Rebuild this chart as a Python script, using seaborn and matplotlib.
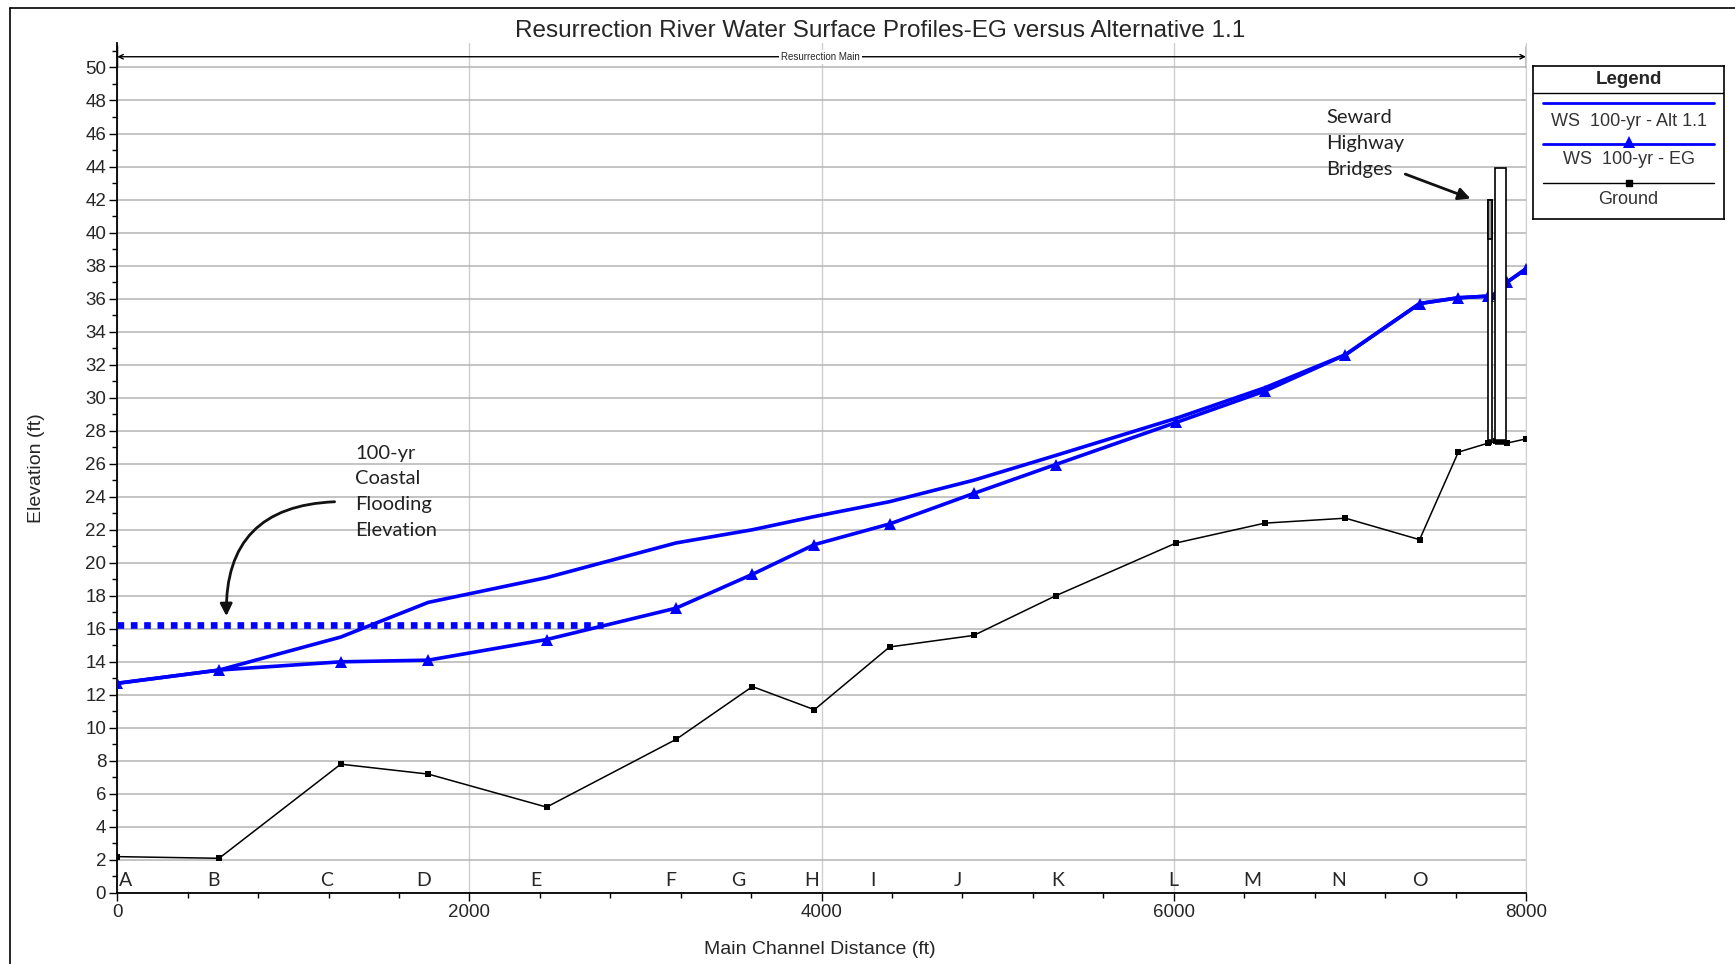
import matplotlib
matplotlib.use('Agg')
import matplotlib.pyplot as plt
from matplotlib.patches import Rectangle, FancyArrowPatch
from matplotlib.lines import Line2D
from matplotlib.ticker import MultipleLocator
import seaborn as sns
import pandas as pd

# ── data ──
dist = [0, 578, 1269, 1766, 2438, 3173, 3607, 3959, 4386, 4864, 5329,
        6014, 6517, 6975, 7396, 7616, 7786, 7830, 7893, 8000]
ground = [2.2, 2.1, 7.8, 7.2, 5.2, 9.3, 12.5, 11.1, 14.9, 15.6, 18.0,
          21.2, 22.4, 22.7, 21.4, 26.7, 27.25, 27.35, 27.25, 27.5]
ws_eg = [12.7, 13.5, 14.0, 14.1, 15.35, 17.25, 19.3, 21.1, 22.35, 24.2, 25.95,
         28.5, 30.4, 32.6, 35.7, 36.05, 36.15, 36.3, 37.0, 37.8]
ws_alt = [12.7, 13.5, 15.5, 17.6, 19.1, 21.2, 22.0, 22.8, 23.7, 25.0, 26.5,
          28.75, 30.6, 32.6, 35.7, 36.05, 36.15, 36.3, 37.0, 37.8]

coastal_x = [0, 2760]
coastal_y = [16.2, 16.2]

section_labels = list('ABCDEFGHIJKLMNO')
section_x = [45, 547, 1188, 1741, 2375, 3142, 3525, 3946, 4292, 4776,
             5341, 5995, 6447, 6938, 7396]

# bridges: (x_left, x_right, bottom, top)
bridges = [(7786, 7809, 27.3, 42.0), (7824, 7885, 27.3, 43.9)]

df = pd.DataFrame({'dist': dist, 'ground': ground, 'eg': ws_eg, 'alt': ws_alt})

# ── style ──
sns.set_style('white')
plt.rcParams['font.family'] = ['Liberation Sans', 'DejaVu Sans']
narrow = ['Liberation Sans Narrow', 'Liberation Sans', 'DejaVu Sans']
callout = ['Lato', 'DejaVu Sans']
BLUE = '#0000ff'

fig = plt.figure(figsize=(17.35, 9.64), dpi=100)
ax = fig.add_axes([0.0676, 0.0737, 0.8119, 0.8820])

# ── plot ──
ax.plot(coastal_x, coastal_y, color=BLUE, lw=4.8, ls=(0, (1, 1)),
        solid_capstyle='butt', dash_capstyle='butt', zorder=3)
sns.lineplot(data=df, x='dist', y='ground', ax=ax, color='black', lw=1.1,
             marker='s', markersize=4, markeredgewidth=0, sort=False,
             estimator=None, zorder=4)
sns.lineplot(data=df, x='dist', y='alt', ax=ax, color=BLUE, lw=2.6,
             sort=False, estimator=None, zorder=5)
sns.lineplot(data=df, x='dist', y='eg', ax=ax, color=BLUE, lw=2.6,
             marker='^', markersize=9, markeredgewidth=0, sort=False,
             estimator=None, zorder=6)

for i, (x0, x1, b, t) in enumerate(bridges):
    ax.add_patch(Rectangle((x0, b), x1 - x0, t - b, facecolor='white',
                           edgecolor='black', lw=1.2, zorder=7))
    if i == 0:
        ax.add_patch(Rectangle((x0, 39.6), x1 - x0, t - 39.6, facecolor='#a0a0a0',
                               edgecolor='black', lw=1.2, zorder=7))
    ax.plot([x0, x1], [b, b], color='black', lw=4, solid_capstyle='butt', zorder=8)

# ── axes ──
ax.set_xlim(0, 8000)
ax.set_ylim(0, 51.5)
ax.xaxis.set_major_locator(MultipleLocator(2000))
ax.xaxis.set_minor_locator(MultipleLocator(400))
ax.yaxis.set_major_locator(MultipleLocator(2))
ax.yaxis.set_minor_locator(MultipleLocator(1))
ax.set_yticks([v for v in range(0, 51, 2)])
ax.tick_params(axis='both', which='major', direction='out', length=6, width=1,
               color='black', labelsize=13.5, pad=2, left=True, bottom=True)
ax.tick_params(axis='both', which='minor', direction='out', length=3.5, width=1,
               color='black', left=True, bottom=True)
for lab in ax.get_xticklabels() + ax.get_yticklabels():
    lab.set_family(narrow)
ax.grid(axis='y', which='major', color='#b4b4b4', lw=1.1)
ax.grid(axis='x', which='major', color='#cfcfcf', lw=1.0)
ax.spines['top'].set_visible(False)
ax.spines['right'].set_color('#cfcfcf')
for s in ('left', 'bottom'):
    ax.spines[s].set_color('black')
    ax.spines[s].set_linewidth(1.3)
ax.set_xlabel('Main Channel Distance (ft)', fontsize=14, family=narrow)
ax.set_ylabel('Elevation (ft)', fontsize=14, family=narrow)
ax.xaxis.set_label_coords(0.4985, -0.056)
ax.yaxis.set_label_coords(-0.051, 0.5)

# reach banner
ax.annotate('', xy=(0, 50.65), xytext=(8000, 50.65),
            arrowprops=dict(arrowstyle='<->', lw=1, color='black',
                            shrinkA=0, shrinkB=0, mutation_scale=8), zorder=9)
for xe in (0, 8000):
    ax.plot([xe, xe], [50.0, 51.3], color='black', lw=1, zorder=9)
ax.text(3995, 50.65, 'Resurrection Main', fontsize=7, family=narrow, ha='center',
        va='center', bbox=dict(facecolor='white', edgecolor='none', pad=1.5), zorder=10)

# section letters
for lab, xs in zip(section_labels, section_x):
    ax.text(xs, 0.25, lab, fontsize=14, family=callout, ha='center', va='bottom', zorder=9)

# callouts
ax.text(1350, 24.3, '100-yr\nCoastal\nFlooding\nElevation', fontsize=14.5, family=callout,
        ha='left', va='center', linespacing=1.62, color='#222222')
ax.add_patch(FancyArrowPatch((1250, 23.7), (620, 16.6), connectionstyle='arc3,rad=0.5',
                             arrowstyle='-|>', mutation_scale=18, lw=2, color='#111111',
                             zorder=9))
ax.text(6865, 45.4, 'Seward\nHighway\nBridges', fontsize=14.5, family=callout,
        ha='left', va='center', linespacing=1.62, color='#222222')
ax.add_patch(FancyArrowPatch((7300, 43.6), (7700, 42.0), arrowstyle='-|>',
                             mutation_scale=18, lw=2, color='#111111', zorder=9))

fig.text(0.507, 0.968, 'Resurrection River Water Surface Profiles-EG versus Alternative 1.1',
         fontsize=17.5, ha='center', va='center')

# ── legend box ──
lg = fig.add_axes([1533 / 1735, 1 - 219 / 964, 191 / 1735, 153 / 964])
lg.set_xlim(0, 1)
lg.set_ylim(153, 0)
lg.set_xticks([])
lg.set_yticks([])
for s in lg.spines.values():
    s.set_color('black')
    s.set_linewidth(1.2)
lg.text(0.5, 13, 'Legend', fontsize=13.5, weight='bold', ha='center', va='center')
lg.plot([0, 1], [27, 27], color='black', lw=1)
lg.plot([0.05, 0.95], [37, 37], color=BLUE, lw=2)
lg.text(0.5, 56, 'WS  100-yr - Alt 1.1', fontsize=13, family=narrow, ha='center', va='center',
        color='#333333')
lg.plot([0.05, 0.95], [78, 78], color=BLUE, lw=2)
lg.plot([0.5], [76], marker='^', color=BLUE, markersize=8, markeredgewidth=0)
lg.text(0.5, 94, 'WS  100-yr - EG', fontsize=13, family=narrow, ha='center', va='center',
        color='#333333')
lg.plot([0.05, 0.95], [117, 117], color='black', lw=1)
lg.plot([0.5], [117], marker='s', color='black', markersize=4)
lg.text(0.5, 133, 'Ground', fontsize=13, family=narrow, ha='center', va='center',
        color='#333333')

# outer frame
fig.add_artist(Line2D([10 / 1735, 10 / 1735], [0, 1 - 8 / 964], color='black', lw=1.2,
                      transform=fig.transFigure))
fig.add_artist(Line2D([10 / 1735, 1], [1 - 8 / 964, 1 - 8 / 964], color='black', lw=1.2,
                      transform=fig.transFigure))

fig.savefig('out.png', dpi=100, facecolor='white')
